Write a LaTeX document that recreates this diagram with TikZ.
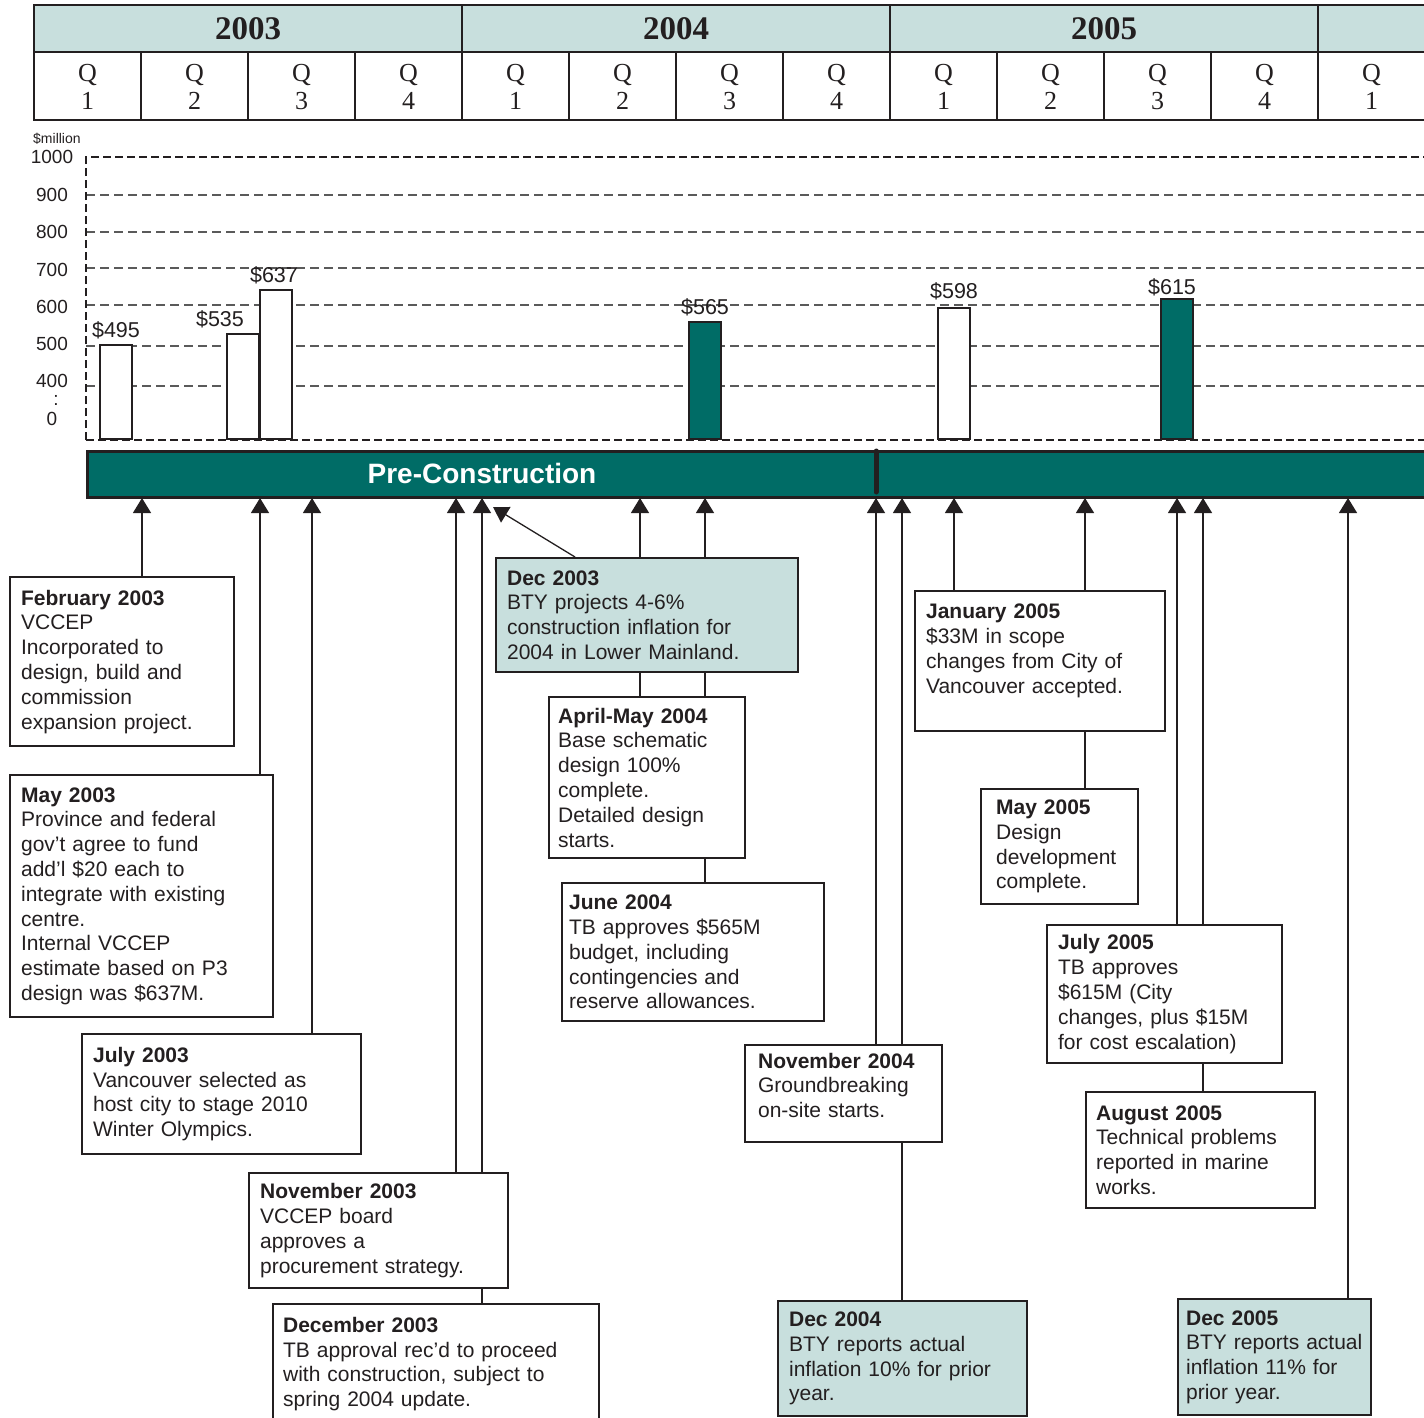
\documentclass[tikz,border=0pt]{standalone}
\usepackage{fontspec}
\setmainfont{Liberation Sans}
\newfontfamily\hdrfont{Liberation Serif}
\usetikzlibrary{arrows.meta, positioning, calc, backgrounds}

\definecolor{ink}{RGB}{35,31,32}
\definecolor{bandteal}{RGB}{0,108,102}
\definecolor{paleteal}{RGB}{200,223,221}
\definecolor{gridgray}{RGB}{90,90,90}

\begin{document}
\begin{tikzpicture}[x=1pt, y=-1pt, >={Triangle[width=18pt, length=15pt]},
  event/.style={draw=ink, line width=2.2pt, fill=white, anchor=north west, align=left,
    inner xsep=11pt, inner ysep=0pt, text=ink, font=\fontsize{21}{24.8}\selectfont},
  bty/.style={event, fill=paleteal},
  link/.style={draw=ink, line width=1.3pt},
  hdrline/.style={draw=ink, line width=2.8pt},
  qline/.style={draw=ink, line width=1.4pt},
  griddash/.style={draw=gridgray, line width=1.4pt, dash pattern=on 9pt off 5pt},
  framedash/.style={draw=ink, line width=2.6pt, dash pattern=on 8pt off 4pt},
  bar/.style={draw=ink, line width=2pt},
  barlbl/.style={font=\fontsize{21.5}{24}\selectfont, text=ink, inner sep=0pt},
  ticklbl/.style={font=\fontsize{19}{20}\selectfont, text=ink, inner sep=0pt},
  yearlbl/.style={font=\hdrfont\bfseries\fontsize{33}{34}\selectfont, text=ink},
  qlbl/.style={font=\hdrfont\fontsize{26}{28}\selectfont, align=center, text=ink}]

\useasboundingbox (0,0) rectangle (1424,1417);
\clip (0,0) rectangle (1424,1417);

% year / quarter header
\foreach \i in {0,...,3}
  \fill[paleteal] ({34+428*\i},5) rectangle ({462+428*\i},52);
\foreach \yr [count=\i from 0] in {2003,2004,2005}
  \node[yearlbl] (yr\yr) at ({248+428*\i},29) {\yr};
\foreach \k in {0,...,12} {
  \pgfmathtruncatemacro\qn{mod(\k,4)+1}
  \node[qlbl] (q\k) at ({87.5+107*\k},87) {Q\\\qn};
}
\foreach \k in {1,2,3,5,6,7,9,10,11}
  \draw[qline] ({34+107*\k},52) -- ++(0,68);
\draw[hdrline] (1430,5) -- (34,5) -- (34,120) -- (1430,120);
\draw[hdrline] (34,52) -- (1430,52);
\foreach \x in {462,890,1318}
  \draw[hdrline] (\x,5) -- (\x,120);

% cost chart
\node[font=\fontsize{14}{16}\selectfont, text=ink, anchor=west, inner sep=0pt] (unit) at (33,139) {\$million};
\foreach \y in {195,232,268,305,346,386}
  \draw[griddash] (86,\y) -- (1430,\y);
\draw[framedash] (86,440) -- (86,157) -- (1430,157);
\draw[framedash] (86,440) -- (1430,440);
\foreach \v/\y in {1000/157, 900/195, 800/232, 700/270, 600/307, 500/344, 400/381, 0/419}
  \node[ticklbl] (tk\v) at (52,\y) {\v};
\node[ticklbl] (tkdots) at (56,400) {:};
\foreach \x/\top/\col in {100/345/white, 227/334/white, 260/290/white, 689/322/bandteal, 938/308/white, 1161/299/bandteal}
  \draw[bar, fill=\col] (\x,439) rectangle ({\x+32},\top);
\node[barlbl] (v495) at (116,330) {\$495};
\node[barlbl] (v535) at (220,319) {\$535};
\node[barlbl] (v637) at (274,275) {\$637};
\node[barlbl] (v565) at (705,307) {\$565};
\node[barlbl] (v598) at (954,291) {\$598};
\node[barlbl] (v615) at (1172,287) {\$615};

% phase band
\node[draw=ink, line width=2.5pt, fill=bandteal, anchor=north west, minimum width=1360pt,
  minimum height=46pt, inner sep=0pt] (band) at (86,450) {};
\node[font=\bfseries\fontsize{28}{30}\selectfont, text=white] (precon) at (482,473) {Pre-Construction};
\draw[ink, line width=5pt, line cap=round] (876,451) -- (876,492);

% events
\node[event, text width=202pt, minimum height=169pt] (feb03) at (9,576)
  {\textbf{February 2003}\\VCCEP\\Incorporated to\\design, build and\\commission\\expansion project.};
\node[event, text width=241pt, minimum height=242pt] (may03) at (9,774)
  {\textbf{May 2003}\\Province and federal\\gov’t agree to fund\\add’l \$20 each to\\integrate with existing\\centre.\\Internal VCCEP\\estimate based on P3\\design was \$637M.};
\node[event, text width=257pt, minimum height=120pt] (jul03) at (81,1033)
  {\textbf{July 2003}\\Vancouver selected as\\host city to stage 2010\\Winter Olympics.};
\node[event, text width=237pt, minimum height=115pt] (nov03) at (248,1172)
  {\textbf{November 2003}\\VCCEP board\\approves a\\procurement strategy.};
\node[event, inner xsep=10pt, text width=306pt, minimum height=120pt] (dec03) at (272,1303)
  {\textbf{December 2003}\\TB approval rec’d to proceed\\with construction, subject to\\spring 2004 update.};
\node[bty, text width=280pt, minimum height=114pt] (dec03b) at (495,557)
  {\textbf{Dec 2003}\\BTY projects 4-6\%\\construction inflation for\\2004 in Lower Mainland.};
\node[event, inner xsep=9pt, text width=178pt, minimum height=161pt] (aprmay04) at (548,696)
  {\textbf{April-May 2004}\\Base schematic\\design 100\%\\complete.\\Detailed design\\starts.};
\node[event, inner xsep=7pt, text width=248pt, minimum height=138pt] (jun04) at (561,882)
  {\textbf{June 2004}\\TB approves \$565M\\budget, including\\contingencies and\\reserve allowances.};
\node[event, inner xsep=13pt, text width=171pt, minimum height=97pt] (nov04) at (744,1044)
  {\textbf{November 2004}\\Groundbreaking\\on-site starts.\\[-8pt]\mbox{}};
\node[bty, text width=227pt, minimum height=115pt] (dec04) at (777,1300)
  {\textbf{Dec 2004}\\BTY reports actual\\inflation 10\% for prior\\year.};
\node[event, text width=228pt, minimum height=140pt] (jan05) at (914,590)
  {\textbf{January 2005}\\\$33M in scope\\changes from City of\\Vancouver accepted.\\\mbox{}};
\node[event, inner xsep=15pt, text width=127pt, minimum height=115pt] (may05) at (980,788)
  {\textbf{May 2005}\\Design\\development\\complete.};
\node[event, text width=213pt, minimum height=138pt] (jul05) at (1046,924)
  {\textbf{July 2005}\\TB approves\\\$615M (City\\changes, plus \$15M\\for cost escalation)};
\node[event, inner xsep=10pt, text width=209pt, minimum height=116pt] (aug05) at (1085,1091)
  {\textbf{August 2005}\\Technical problems\\reported in marine\\works.};
\node[bty, inner xsep=8pt, text width=177pt, minimum height=116pt] (dec05) at (1177,1298)
  {\textbf{Dec 2005}\\BTY reports actual\\inflation 11\% for\\prior year.};

% connectors to the band
\foreach \ev/\x in {feb03/142, may03/260, jul03/312, nov03/456, dec03/482, aprmay04/640, jun04/705,
    nov04/876, dec04/902, jan05/954, may05/1085, jul05/1177, aug05/1203, dec05/1348}
  \coordinate (t-\ev) at (\x,498);
\coordinate (t-dec03b) at (493,507);
\begin{scope}[on background layer]
\foreach \ev in {feb03, may03, jul03, nov03, dec03, aprmay04, jun04, nov04, dec04, jan05, may05, jul05, aug05, dec05}
  \draw[link, ->] (t-\ev |- \ev.north) -- (t-\ev);
\draw[link, ->] ($(dec03b.north west)+(80,0)$) -- (t-dec03b);
\end{scope}
\end{tikzpicture}
\end{document}
